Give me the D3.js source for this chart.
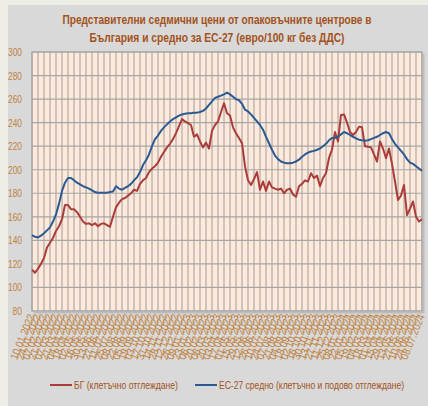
<!DOCTYPE html>
<html>
<head>
<meta charset="utf-8">
<script src="https://cdn.jsdelivr.net/npm/d3@7"></script>
<style>
  body { margin: 0; background: #efeee6; }
  svg { display: block; }
  text { font-family: "Liberation Sans Narrow", "Arial Narrow", "Liberation Sans", sans-serif; }
</style>
</head>
<body>
<svg id="chart" width="428" height="406"></svg>
<script>
// weekly prices, euro / 100 kg without VAT
const bgValues = [115, 112.5, 116, 120, 125, 134, 138, 142, 148, 152, 158, 170, 170, 166.5, 166.5, 164, 160, 156, 154, 154.5,
  153, 154.5, 152, 154, 154.5, 153, 151.5, 160, 168, 172, 175, 176, 178, 180, 183, 182, 188, 191, 193, 198,
  201, 203, 206, 211, 215, 219, 222, 226, 231, 237, 243, 241, 239.5, 238, 228, 230, 224, 219, 223, 218,
  233, 238, 241, 249, 256.5, 248, 246, 236, 231, 227, 222.5, 203, 191, 187, 192, 198, 183, 190, 182, 190,
  185, 184, 183, 184, 180, 183, 184, 179, 177, 186, 188, 191, 190, 197, 193, 195, 186, 193, 197, 210,
  217, 232, 224, 246.5, 247, 240, 232, 229.5, 232, 236.6, 236, 220, 219.6, 219, 213, 207, 224, 218, 209.7, 218,
  205, 190, 174.3, 178, 187, 161.5, 167, 173, 160, 156, 158]

const euValues = [144.5, 143, 142.5, 144, 146, 148.5, 151, 156, 162, 171, 182, 189, 193, 193, 191, 189, 187.5, 186, 185, 184,
  182.5, 181, 180.5, 180.5, 180.5, 180.5, 181, 181.5, 186, 184, 183, 184.5, 186, 188, 191, 193.5, 198, 204, 208, 213,
  220, 226, 229, 233, 236, 238.5, 241, 243, 244.5, 246, 247, 247.5, 248, 248, 248.5, 248.5, 249, 250, 252, 255,
  258, 261, 262, 263, 264, 265.5, 264, 262, 260, 259, 256, 251, 249.5, 247, 244, 241, 238, 234, 228, 222.5,
  217, 212, 209, 207, 206, 205.5, 205.5, 206, 207, 208.5, 211, 213, 214.5, 215.5, 216, 217, 218, 220, 222, 225,
  227, 227, 228, 230, 232, 231, 229.5, 228, 226.7, 225.5, 225, 224.7, 225, 226, 227, 228, 229.5, 231, 232, 231,
  226, 222, 219, 216, 213, 209, 206, 205, 203, 201, 199]

// one label every second week
const weekLabels = ['10.01.2022', '24.01.2022', '07.02.2022', '21.02.2022', '07.03.2022', '21.03.2022', '04.04.2022',
  '18.04.2022', '02.05.2022', '16.05.2022', '30.05.2022', '13.06.2022', '27.06.2022', '11.07.2022', '25.07.2022',
  '08.08.2022', '22.08.2022', '05.09.2022', '19.09.2022', '03.10.2022', '17.10.2022', '31.10.2022', '14.11.2022',
  '28.11.2022', '12.12.2022', '26.12.2022', '09.01.2023', '23.01.2023', '06.02.2023', '20.02.2023', '06.03.2023',
  '20.03.2023', '03.04.2023', '17.04.2023', '01.05.2023', '15.05.2023', '29.05.2023', '12.06.2023', '26.06.2023',
  '10.07.2023', '24.07.2023', '07.08.2023', '21.08.2023', '04.09.2023', '18.09.2023', '02.10.2023', '16.10.2023',
  '30.10.2023', '13.11.2023', '27.11.2023', '11.12.2023', '25.12.2023', '08.01.2024', '22.01.2024', '05.02.2024',
  '19.02.2024', '04.03.2024', '18.03.2024', '01.04.2024', '15.04.2024', '29.04.2024', '13.05.2024', '27.05.2024',
  '10.06.2024', '24.06.2024', '08.07.2024']

const yTicks = [80, 100, 120, 140, 160, 180, 200, 220, 240, 260, 280, 300]

const titleLines = ['Представителни седмични цени от опаковъчните центрове в',
  'България и средно за ЕС-27 (евро/100 кг без ДДС)']

const seriesNames = ['БГ (клетъчно отглеждане)', 'ЕС-27 средно (клетъчно и подово отглеждане)']
const seriesColors = ['#ab3c3a', '#2b5a93']

const brown = '#a3521b'
const tickBrown = '#c0823f'

const svg = d3.select('#chart')

// chart area
svg.append('rect')
  .attr('x', 8).attr('y', 5)
  .attr('width', 420).attr('height', 401)
  .attr('fill', '#d9d9d9')

const plot = {left: 32, right: 422, top: 52, bottom: 311}

let x = d3.scaleLinear().domain([0, bgValues.length - 1]).range([plot.left, plot.right])
let y = d3.scaleLinear().domain([80, 300]).range([plot.bottom, plot.top])

svg.append('rect')
  .attr('x', plot.left).attr('y', plot.top)
  .attr('width', plot.right - plot.left).attr('height', plot.bottom - plot.top)
  .attr('fill', '#fdeadc')

// vertical grid lines, one per label
svg.append('g')
  .selectAll('line')
  .data(weekLabels)
  .enter()
  .append('line')
  .attr('x1', (d, i) => x(i * 2)).attr('x2', (d, i) => x(i * 2))
  .attr('y1', plot.top).attr('y2', plot.bottom)
  .attr('stroke', '#b3aaa3').attr('stroke-width', 1.2)

svg.append('g')
  .selectAll('line')
  .data(yTicks)
  .enter()
  .append('line')
  .attr('x1', plot.left).attr('x2', plot.right)
  .attr('y1', (d) => y(d)).attr('y2', (d) => y(d))
  .attr('stroke', '#a6a6a6').attr('stroke-width', 1.2)

// frame
svg.append('rect')
  .attr('x', plot.left).attr('y', plot.top)
  .attr('width', plot.right - plot.left).attr('height', plot.bottom - plot.top)
  .attr('fill', 'none')
  .attr('stroke', '#a6a6a6').attr('stroke-width', 1.2)

svg.append('line')
  .attr('x1', plot.right + 1.5).attr('x2', plot.right + 1.5)
  .attr('y1', plot.top + 2).attr('y2', plot.bottom + 1.5)
  .attr('stroke', '#bdbdbd').attr('stroke-width', 2)
svg.append('line')
  .attr('x1', plot.left + 2).attr('x2', plot.right + 2.5)
  .attr('y1', plot.bottom + 1.5).attr('y2', plot.bottom + 1.5)
  .attr('stroke', '#bdbdbd').attr('stroke-width', 2)

// y axis labels (narrow font look)
svg.append('g')
  .selectAll('text')
  .data(yTicks)
  .enter()
  .append('text')
  .attr('x', 22)
  .attr('y', (d) => y(d) + 4)
  .attr('text-anchor', 'end')
  .attr('font-size', 11)
  .attr('fill', tickBrown)
  .attr('textLength', (d) => d >= 100 ? 14 : 9.5)
  .attr('lengthAdjust', 'spacingAndGlyphs')
  .text((d) => d)

// x axis labels
svg.append('g')
  .selectAll('text')
  .data(weekLabels)
  .enter()
  .append('text')
  .attr('transform', (d, i) => `translate(${x(i * 2) + 3},${plot.bottom + 5}) rotate(-68)`)
  .attr('text-anchor', 'end')
  .attr('font-size', 11)
  .attr('fill', tickBrown)
  .attr('textLength', 48)
  .attr('lengthAdjust', 'spacingAndGlyphs')
  .text((d) => d)

// lines
let line = d3.line()
  .x((d, i) => x(i))
  .y((d) => y(d))

;[bgValues, euValues].forEach((vals, k) => {
  svg.append('path')
    .datum(vals)
    .attr('d', line)
    .attr('fill', 'none')
    .attr('stroke', seriesColors[k])
    .attr('stroke-width', 2)
    .attr('stroke-linejoin', 'round')
})

// title
svg.append('g')
  .selectAll('text')
  .data(titleLines)
  .enter()
  .append('text')
  .attr('x', 217)
  .attr('y', (d, i) => 24 + i * 18)
  .attr('text-anchor', 'middle')
  .attr('font-size', 13.5)
  .attr('font-weight', 'bold')
  .attr('fill', brown)
  .attr('textLength', (d, i) => i === 0 ? 309 : 255)
  .attr('lengthAdjust', 'spacingAndGlyphs')
  .text((d) => d)

// legend
let legendX = [50, 195]
let legendW = [104, 185]
let legend = svg.append('g')
  .selectAll('g')
  .data(seriesNames)
  .enter()
  .append('g')
  .attr('transform', (d, i) => `translate(${legendX[i]},385)`)

legend.append('line')
  .attr('x1', 0).attr('x2', 22)
  .attr('stroke', (d, i) => seriesColors[i])
  .attr('stroke-width', 2)

legend.append('text')
  .attr('x', 24)
  .attr('y', 4)
  .attr('font-size', 11)
  .attr('fill', brown)
  .attr('textLength', (d, i) => legendW[i])
  .attr('lengthAdjust', 'spacingAndGlyphs')
  .text((d) => d)
</script>
</body>
</html>
